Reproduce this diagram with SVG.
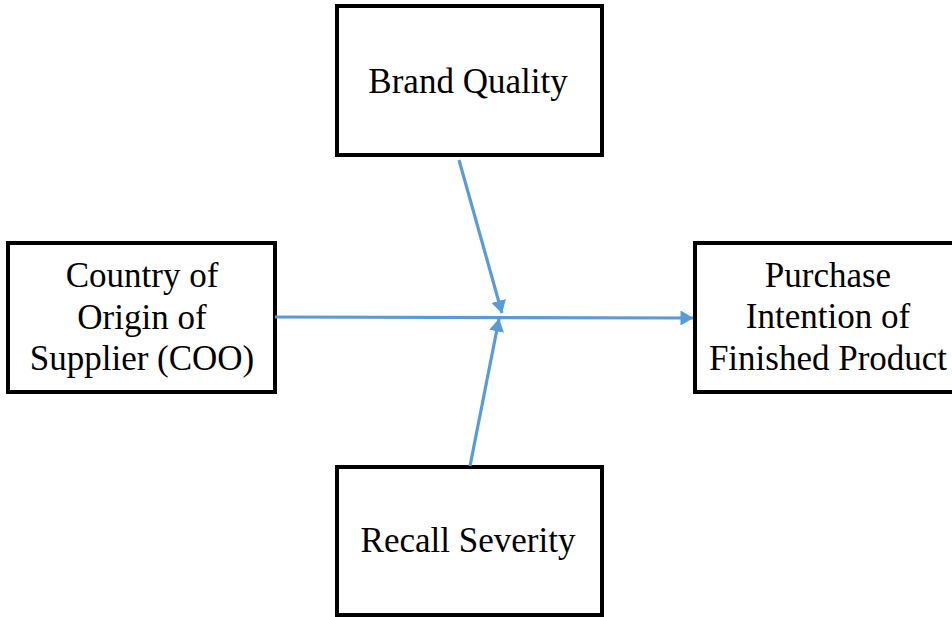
<svg xmlns="http://www.w3.org/2000/svg" width="952" height="617" viewBox="0 0 952 617">
<style>
.box{fill:#fff;stroke:#000;stroke-width:4}
.t{font-family:"Liberation Serif","Times New Roman",serif;font-size:35px;fill:#000;text-anchor:middle}
.c{stroke:#5B9BD5;stroke-width:3.2;fill:none}
</style>
<defs>
<marker id="ah" viewBox="0 0 13 15" refX="12.5" refY="7.5" markerWidth="13" markerHeight="15" markerUnits="userSpaceOnUse" orient="auto">
<path d="M0,0 L13,7.5 L0,15 Z" fill="#5B9BD5"/>
</marker>
</defs>
<g id="brand">
<rect class="box" x="337" y="6" width="265" height="149"/>
<text class="t" x="468" y="93">Brand Quality</text>
</g>
<g id="coo">
<rect class="box" x="8" y="243" width="267" height="149"/>
<text class="t" x="142" y="287">Country of</text>
<text class="t" x="142" y="329">Origin of</text>
<text class="t" x="142" y="370">Supplier (COO)</text>
</g>
<g id="purchase">
<rect class="box" x="695" y="243" width="265" height="149"/>
<text class="t" x="828" y="287">Purchase</text>
<text class="t" x="828" y="328">Intention of</text>
<text class="t" x="828" y="370">Finished Product</text>
</g>
<g id="recall">
<rect class="box" x="337" y="467" width="265" height="148"/>
<text class="t" x="468" y="552">Recall Severity</text>
</g>
<g id="connectors">
<line class="c" x1="275" y1="317" x2="693" y2="318" marker-end="url(#ah)"/>
<line class="c" x1="459" y1="160" x2="502" y2="313" marker-end="url(#ah)"/>
<line class="c" x1="470" y1="466" x2="499" y2="319" marker-end="url(#ah)"/>
</g>
</svg>
